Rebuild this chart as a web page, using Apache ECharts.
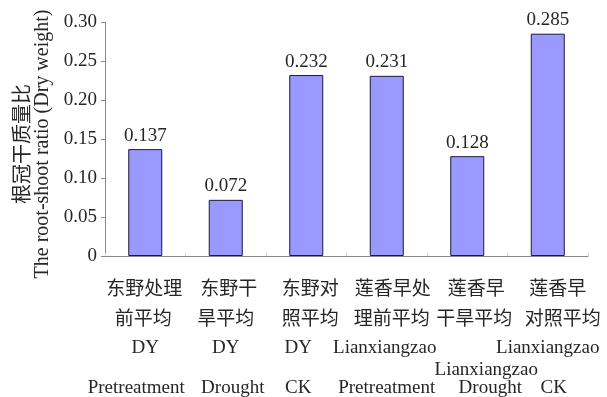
<!DOCTYPE html>
<html>
<head>
<meta charset="utf-8">
<script src="https://cdn.jsdelivr.net/npm/echarts@6/dist/echarts.min.js"></script>
<style>
  html, body { margin: 0; padding: 0; background: #fff; }
  #chart { width: 607px; height: 397px; }
</style>
</head>
<body>
<div id="chart"></div>
<script>
// Category labels, one array per text line
const namesCnA = ['东野处理', '东野干', '东野对', '莲香早处', '莲香早', '莲香早'];
const namesCnB = ['前平均', '旱平均', '照平均', '理前平均', '干旱平均', '对照平均'];
const varietyLine3 = ['DY', 'DY', 'DY', 'Lianxiangzao', '', 'Lianxiangzao'];
const varietyLine4 = ['', '', '', '', 'Lianxiangzao', ''];
const treatment = ['Pretreatment', 'Drought', 'CK', 'Pretreatment', 'Drought', 'CK'];

// Root-shoot ratio (dry weight)
const ratio = [0.137, 0.072, 0.232, 0.231, 0.128, 0.285];

// Y axis ticks
const yTicks = [0, 0.05, 0.10, 0.15, 0.20, 0.25, 0.30];

const categories = namesCnA.map((_, i) => String(i));

const serif = '"Liberation Serif", "Times New Roman", "Noto Sans CJK SC", serif';
const textColor = '#262626';

// Label typesetting: line heights and per-column horizontal nudges (px)
const lineHeights = [30, 30, 26, 18, 18];
const labelNudge = [
  [-1, -2, 0, 0, -9],
  [3, 0, 0, 0, 7],
  [4, 4, -8, 0, -8],
  [6, 5, -2, 0, 0],
  [9, 7, 0, 19, 23],
  [10, 15, 0, 0, 6]
];
const rich = {};
labelNudge.forEach((row, c) => {
  row.forEach((dx, l) => {
    const pad = dx >= 0 ? [0, 0, 0, 2 * dx] : [0, -2 * dx, 0, 0];
    rich['c' + c + 'l' + l] = {
      fontFamily: serif, fontSize: 19, lineHeight: lineHeights[l], color: textColor, padding: pad
    };
  });
});

const chart = echarts.init(document.getElementById('chart'), null, { renderer: 'canvas' });

chart.setOption({
  animation: false,
  backgroundColor: '#ffffff',
  grid: { left: 105, right: 19, top: 22, bottom: 141, containLabel: false, outerBoundsMode: 'none' },
  xAxis: {
    type: 'category',
    data: categories,
    axisLine: { lineStyle: { color: '#8a8a8a', width: 1 } },
    axisTick: { show: true, inside: true, length: 3, lineStyle: { color: '#d8d8d8' } },
    axisLabel: {
      interval: 0,
      margin: 19,
      rich: rich,
      formatter: (v) => {
        const i = Number(v);
        const lines = [namesCnA[i], namesCnB[i], varietyLine3[i], varietyLine4[i], treatment[i]];
        return lines.map((t, l) => '{c' + i + 'l' + l + '|' + (t || ' ') + '}').join('\n');
      }
    }
  },
  yAxis: {
    type: 'value',
    min: 0,
    max: 0.30,
    interval: 0.05,
    name: '根冠干质量比\nThe root-shoot ratio (Dry weight)',
    nameLocation: 'middle',
    nameRotate: 90,
    nameGap: 52,
    nameTextStyle: { fontFamily: serif, fontSize: 20, lineHeight: 19, color: textColor, padding: [0, 10, 0, 0] },
    axisLine: { show: true, lineStyle: { color: '#8a8a8a', width: 1 } },
    axisTick: { show: true, length: 4, lineStyle: { color: '#8a8a8a' } },
    splitLine: { show: false },
    axisLabel: {
      margin: 8,
      fontFamily: serif,
      fontSize: 19,
      color: textColor,
      formatter: (v) => {
        const t = yTicks.find(x => Math.abs(x - v) < 1e-9);
        if (t === undefined) return '';
        return t === 0 ? '0' : t.toFixed(2);
      }
    }
  },
  series: [{
    type: 'bar',
    data: ratio,
    barWidth: 34,
    itemStyle: { color: '#9999ff', borderColor: '#1a1a3a', borderWidth: 1 },
    label: {
      show: true,
      position: 'top',
      distance: 4,
      fontFamily: serif,
      fontSize: 19,
      color: textColor,
      formatter: (p) => p.value.toFixed(3)
    }
  }]
});
</script>
</body>
</html>
